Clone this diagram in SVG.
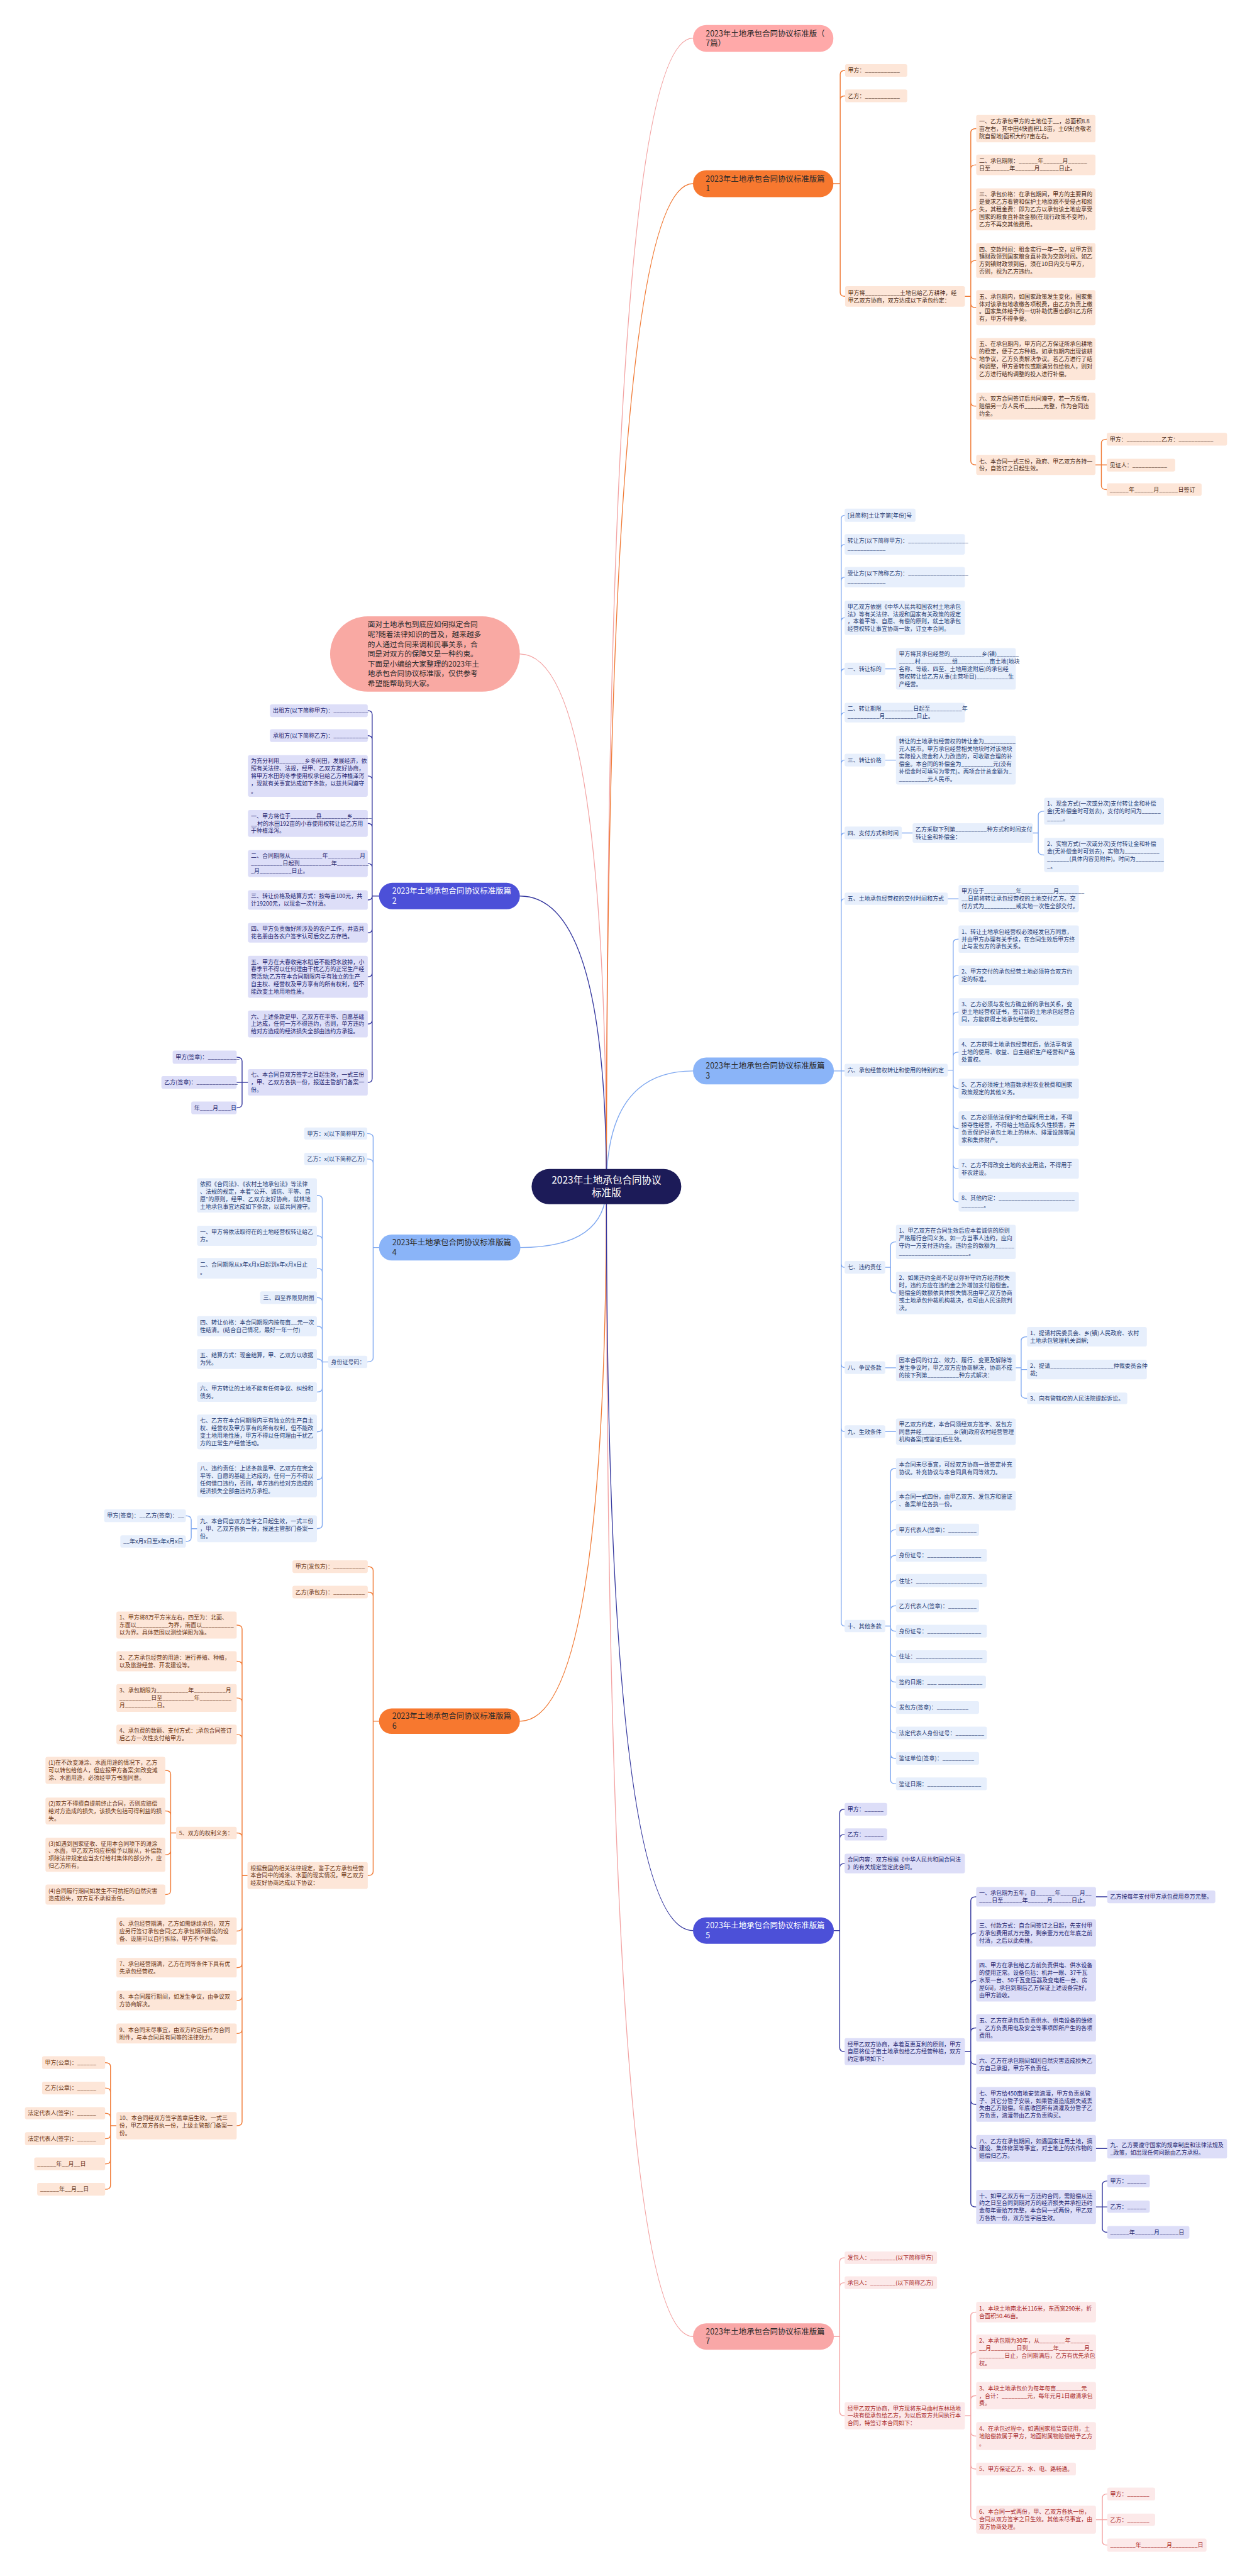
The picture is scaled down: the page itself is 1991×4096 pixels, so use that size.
<svg xmlns="http://www.w3.org/2000/svg" width="1991" height="4096" viewBox="0 0 1991 4096">
<style>
text{font-family:"Noto Sans CJK SC","Noto Sans",sans-serif}
.b1,.b2,.b3,.b4,.b5,.b6,.b7{rx:4px;ry:4px}
.b1,.b6{fill:#FDE6D8}.b3,.b4{fill:#E7EFFC}.b2,.b5{fill:#DDDEF8}.b7{fill:#FCE9E9}
.t1,.t2,.t3,.t4,.t5,.t6,.t7{font-size:11.6px}
.t1{fill:#4A2A15}.t3,.t4{fill:#1F3B73}.t2,.t5{fill:#23246E}.t7{fill:#A82828}.t6{fill:#6A3513}
.h{font-size:16px;fill:#2a2a2a}.hw{font-size:16px;fill:#ffffff}
.c{fill:none;stroke-width:1.8;stroke-linecap:round}
.cp{stroke:#F3A3A3}.co{stroke:#F07A35}.cb{stroke:#7FA8F0}.cn{stroke:#34379E}
</style>
<rect width="1991" height="4096" fill="#ffffff"/>
<g transform="scale(0.77773)">
<g id="connectors">
<path class="c cp" stroke-width="2.2" d="M1240 2426Q1240 78 1417 78M1240 2426Q1240 4777 1417 4777M1240 2426Q1240 1337 1063 1337"/>
<path class="c co" stroke-width="2.2" d="M1240 2426Q1240 375.5 1417 375.5M1240 2426Q1240 3519 1063 3519"/>
<path class="c cb" stroke-width="2.2" d="M1240 2426Q1240 2189.5 1417 2189.5M1240 2426Q1240 2550.5 1064 2550.5"/>
<path class="c cn" stroke-width="2.2" d="M1240 2426Q1240 3947 1417 3947M1240 2426Q1240 1832 1063 1832"/>
<path class="c co" d="M1704 375.5H1718M1718 375.5V152Q1718 144 1728 144M1718 375.5V204Q1718 196 1728 196M1718 375.5V598Q1718 606 1728 606
M1973 606H1985M1985 606V271Q1985 263 1996 263M1985 606V345Q1985 337 1996 337M1985 606V436Q1985 428 1996 428M1985 606V540.5Q1985 532.5 1996 532.5M1985 606V621Q1985 629 1996 629M1985 606V726Q1985 734 1996 734M1985 606V822.5Q1985 830.5 1996 830.5M1985 606V942.5Q1985 950.5 1996 950.5
M2240 950.5H2263M2252 950.5V906Q2252 898 2263 898M2252 950.5V993Q2252 1001 2263 1001"/>
<path class="c cb" d="M1705 2189.5H1727M1720 2189.5V1061.5Q1720 1053.5 1727 1053.5M1720 2189.5V1121Q1720 1113 1727 1113M1720 2189.5V1188Q1720 1180 1727 1180M1720 2189.5V1271Q1720 1263 1727 1263M1720 2189.5V1375.5Q1720 1367.5 1727 1367.5M1720 2189.5V1465Q1720 1457 1727 1457M1720 2189.5V1562Q1720 1554 1727 1554M1720 2189.5V1711Q1720 1703 1727 1703M1720 2189.5V1845.5Q1720 1837.5 1727 1837.5M1720 2189.5V2583Q1720 2591 1727 2591M1720 2189.5V2788Q1720 2796 1727 2796M1720 2189.5V2919Q1720 2927 1727 2927M1720 2189.5V3316.5Q1720 3324.5 1727 3324.5
M1810 1367.5H1832M1810 1554H1832M1844 1703H1866M2112 1703H2123M2123 1703V1666.5Q2123 1658.5 2135 1658.5M2123 1703V1740Q2123 1748 2135 1748M1938 1837.5H1960
M1938 2188H1949M1949 2188V1928Q1949 1920 1960 1920M1949 2188V2002Q1949 1994 1960 1994M1949 2188V2077Q1949 2069 1960 2069M1949 2188V2159Q1949 2151 1960 2151M1949 2188V2217.5Q1949 2225.5 1960 2225.5M1949 2188V2299.5Q1949 2307.5 1960 2307.5M1949 2188V2381.5Q1949 2389.5 1960 2389.5M1949 2188V2449Q1949 2457 1960 2457
M1810 2591H1821M1821 2591V2547Q1821 2539 1832 2539M1821 2591V2635.5Q1821 2643.5 1832 2643.5
M1810 2796.5H1832M2077 2796.5H2088M2088 2796.5V2741Q2088 2733 2100 2733M2088 2796.5V2800H2100M2088 2796.5V2851Q2088 2859 2100 2859M1810 2927H1832
M1810 3324.5H1821M1821 3324.5V3010Q1821 3002 1832 3002M1821 3324.5V3076Q1821 3068 1832 3068M1821 3324.5V3135.5Q1821 3127.5 1832 3127.5M1821 3324.5V3188Q1821 3180 1832 3180M1821 3324.5V3239.5Q1821 3231.5 1832 3231.5M1821 3324.5V3291Q1821 3283 1832 3283M1821 3324.5V3327Q1821 3335 1832 3335M1821 3324.5V3379Q1821 3387 1832 3387M1821 3324.5V3431Q1821 3439 1832 3439M1821 3324.5V3483Q1821 3491 1832 3491M1821 3324.5V3535Q1821 3543 1832 3543M1821 3324.5V3587Q1821 3595 1832 3595M1821 3324.5V3639Q1821 3647 1832 3647"/>
<path class="c cn" d="M1705 3947H1717M1717 3947V3707Q1717 3699 1727 3699M1717 3947V3758.5Q1717 3750.5 1727 3750.5M1717 3947V3818Q1717 3810 1727 3810M1717 3947V4186.5Q1717 4194.5 1727 4194.5
M1973 4194.5H1985M1985 4194.5V3886Q1985 3878 1996 3878M1985 4194.5V3960Q1985 3952 1996 3952M1985 4194.5V4057Q1985 4049 1996 4049M1985 4194.5V4154Q1985 4146 1996 4146M1985 4194.5V4212.5Q1985 4220.5 1996 4220.5M1985 4194.5V4294.5Q1985 4302.5 1996 4302.5M1985 4194.5V4384.5Q1985 4392.5 1996 4392.5M1985 4194.5V4504Q1985 4512 1996 4512
M2241 3878H2264M2241 4392.5H2264M2241 4512H2264M2254 4512V4467Q2254 4459 2264 4459M2254 4512V4556Q2254 4564 2264 4564"/>
<path class="c cp" d="M1705 4777H1717M1717 4777V4624Q1717 4616 1727 4616M1717 4777V4675Q1717 4667 1727 4667M1717 4777V4931Q1717 4939 1727 4939
M1973 4939H1985M1985 4939V4735Q1985 4727 1996 4727M1985 4939V4816.5Q1985 4808.5 1996 4808.5M1985 4939V4906Q1985 4898 1996 4898M1985 4939V4972.5Q1985 4980.5 1996 4980.5M1985 4939V5040Q1985 5048 1996 5048M1985 4939V5143.5Q1985 5151.5 1996 5151.5
M2241 5151.5H2264M2254 5151.5V5107Q2254 5099 2264 5099M2254 5151.5V5195.5Q2254 5203.5 2264 5203.5"/>
<path class="c cn" d="M775 1832H761M761 1832V1461Q761 1453 752 1453M761 1832V1512Q761 1504 752 1504M761 1832V1594.5Q761 1586.5 752 1586.5M761 1832V1691.5Q761 1683.5 752 1683.5M761 1832V1773.5Q761 1765.5 752 1765.5M761 1832Q761 1840 752 1840M761 1832V1899Q761 1907 752 1907M761 1832V1989Q761 1997 752 1997M761 1832V2085.5Q761 2093.5 752 2093.5M761 1832V2205Q761 2213 752 2213
M507 2213H484M495 2213V2169.5Q495 2161.5 484 2161.5M495 2213V2257Q495 2265 484 2265"/>
<path class="c cb" d="M775 2550.5H763M763 2550.5V2325.5Q763 2317.5 751 2317.5M763 2550.5V2377.5Q763 2369.5 751 2369.5M763 2550.5V2776.5Q763 2784.5 751 2784.5
M671 2784.5H659M659 2784.5V2452Q659 2444 648 2444M659 2784.5V2534.5Q659 2526.5 648 2526.5M659 2784.5V2601Q659 2593 648 2593M659 2784.5V2661Q659 2653 648 2653M659 2784.5V2719.5Q659 2711.5 648 2711.5M659 2784.5V2786.5Q659 2778.5 648 2778.5M659 2784.5V2838Q659 2846 648 2846M659 2784.5V2919.5Q659 2927.5 648 2927.5M659 2784.5V3017Q659 3025 648 3025M659 2784.5V3117.5Q659 3125.5 648 3125.5
M403 3125.5H391M391 3125.5V3107Q391 3099 380 3099M391 3125.5V3143.5Q391 3151.5 380 3151.5"/>
<path class="c co" d="M775 3519H763M763 3519V3211Q763 3203 752 3203M763 3519V3263Q763 3255 752 3255M763 3519V3826.5Q763 3834.5 752 3834.5
M506 3834.5H495M495 3834.5V3330.5Q495 3322.5 484 3322.5M495 3834.5V3404.5Q495 3396.5 484 3396.5M495 3834.5V3479.5Q495 3471.5 484 3471.5M495 3834.5V3554Q495 3546 484 3546M495 3834.5V3755.5Q495 3747.5 484 3747.5M495 3834.5V3940Q495 3948 484 3948M495 3834.5V4015Q495 4023 484 4023M495 3834.5V4082Q495 4090 484 4090M495 3834.5V4149.5Q495 4157.5 484 4157.5M495 3834.5V4338Q495 4346 484 4346
M360 3747.5H349M349 3747.5V3627.5Q349 3619.5 338 3619.5M349 3747.5V3710.5Q349 3702.5 338 3702.5M349 3747.5V3784Q349 3792 338 3792M349 3747.5V3865.5Q349 3873.5 338 3873.5
M238 4346H226M226 4346V4225Q226 4217 215 4217M226 4346V4277Q226 4269 215 4269M226 4346V4328.5Q226 4320.5 215 4320.5M226 4346V4364.5Q226 4372.5 215 4372.5M226 4346V4416Q226 4424 215 4424M226 4346V4468Q226 4476 215 4476"/>
</g>

<g id="center"><rect x="1087" y="2390" width="306" height="72" rx="36" fill="#1C1B58"/><text x="1240" y="2420" text-anchor="middle" font-size="20" fill="#ffffff">2023年土地承包合同协议<tspan x="1240" dy="26">标准版</tspan></text></g>

<g id="top7"><rect x="1417" y="51" width="287" height="55" rx="27" fill="#FFA9A9"/><text class="h" x="1443" y="74.1">2023年土地承包合同协议标准版（<tspan x="1443" dy="20">7篇）</tspan></text></g>
<g id="n1"><rect x="1417" y="348" width="287" height="55" rx="27" fill="#F7782F"/><text class="h" x="1443" y="371.1">2023年土地承包合同协议标准版篇<tspan x="1443" dy="20">1</tspan></text></g>
<g id="n3"><rect x="1417" y="2162" width="288" height="55" rx="27" fill="#8AB4F8"/><text class="h" x="1443" y="2185.1">2023年土地承包合同协议标准版篇<tspan x="1443" dy="20">3</tspan></text></g>
<g id="n5"><rect x="1417" y="3920" width="288" height="54" rx="27" fill="#4C50D8"/><text class="hw" x="1443" y="3942.6">2023年土地承包合同协议标准版篇<tspan x="1443" dy="20">5</tspan></text></g>
<g id="n7"><rect x="1417" y="4750" width="288" height="54" rx="27" fill="#F9A7A7"/><text class="h" x="1443" y="4772.6">2023年土地承包合同协议标准版篇<tspan x="1443" dy="20">7</tspan></text></g>
<g id="intro"><rect x="675" y="1260" width="388" height="154" rx="77" fill="#F9A9A3"/><text x="752" y="1282.5" font-size="15" fill="#2a2a2a">面对土地承包到底应如何拟定合同<tspan x="752" dy="20">呢?随着法律知识的普及，越来越多</tspan><tspan x="752" dy="20">的人通过合同来调和民事关系，合</tspan><tspan x="752" dy="20">同是对双方的保障又是一种约束。</tspan><tspan x="752" dy="20">下面是小编给大家整理的2023年土</tspan><tspan x="752" dy="20">地承包合同协议标准版，仅供参考</tspan><tspan x="752" dy="20">希望能帮助到大家。</tspan></text></g>
<g id="n2"><rect x="775" y="1805" width="288" height="54" rx="27" fill="#4C50D8"/><text class="hw" x="802" y="1827.6">2023年土地承包合同协议标准版篇<tspan x="802" dy="20">2</tspan></text></g>
<g id="n4"><rect x="775" y="2524" width="289" height="53" rx="26" fill="#8AB4F8"/><text class="h" x="802" y="2546.1">2023年土地承包合同协议标准版篇<tspan x="802" dy="20">4</tspan></text></g>
<g id="n6"><rect x="775" y="3493" width="288" height="52" rx="26" fill="#F7782F"/><text class="h" x="802" y="3514.6">2023年土地承包合同协议标准版篇<tspan x="802" dy="20">6</tspan></text></g>

<g id="n1-a"><rect class="b1" x="1728" y="131" width="127" height="26"/><text class="t1" x="1734" y="148.2">甲方：___________</text></g>
<g id="n1-b"><rect class="b1" x="1728" y="183" width="127" height="26"/><text class="t1" x="1734" y="200.2">乙方：___________</text></g>
<g id="n1-c"><rect class="b1" x="1728" y="585" width="245" height="42"/><text class="t1" x="1734" y="602.55">甲方将___________土地包给乙方耕种，经<tspan x="1734" dy="15.3">甲乙双方协商，双方达成以下承包约定：</tspan></text></g>
<g id="n1-c1"><rect class="b1" x="1996" y="235" width="244" height="56"/><text class="t1" x="2002" y="251.9">一、乙方承包甲方的土地位于__，总面积8.8<tspan x="2002" dy="15.3">亩左右，其中田4快面积1.8亩，土6快(含敬老</tspan><tspan x="2002" dy="15.3">院自留地)面积大约7亩左右。</tspan></text></g>
<g id="n1-c2"><rect class="b1" x="1996" y="316" width="244" height="42"/><text class="t1" x="2002" y="333.55">二、承包期限：______年______月______<tspan x="2002" dy="15.3">日至______年______月______日止。</tspan></text></g>
<g id="n1-c3"><rect class="b1" x="1996" y="385" width="244" height="86"/><text class="t1" x="2002" y="401.6">三、承包价格：在承包期间，甲方的主要目的<tspan x="2002" dy="15.3">是要求乙方看管和保护土地原貌不受侵占和损</tspan><tspan x="2002" dy="15.3">失，其租金费：即为乙方以承包该土地应享受</tspan><tspan x="2002" dy="15.3">国家的粮食直补款金额(在现行政策不变时)，</tspan><tspan x="2002" dy="15.3">乙方不再交其他费用。</tspan></text></g>
<g id="n1-c4"><rect class="b1" x="1996" y="497" width="244" height="71"/><text class="t1" x="2002" y="513.75">四、交款时间：租金实行一年一交，以甲方到<tspan x="2002" dy="15.3">镇财政领到国家粮食直补款为交款时间。如乙</tspan><tspan x="2002" dy="15.3">方到镇财政领到后，须在10日内交与甲方，</tspan><tspan x="2002" dy="15.3">否则，视为乙方违约。</tspan></text></g>
<g id="n1-c5"><rect class="b1" x="1996" y="593" width="244" height="72"/><text class="t1" x="2002" y="610.25">五、承包期内，如国家政策发生变化，国家集<tspan x="2002" dy="15.3">体对该承包地收缴各项税费，由乙方负责上缴</tspan><tspan x="2002" dy="15.3">。国家集体给予的一切补助优惠也都归乙方所</tspan><tspan x="2002" dy="15.3">有，甲方不得争要。</tspan></text></g>
<g id="n1-c6"><rect class="b1" x="1996" y="691" width="244" height="86"/><text class="t1" x="2002" y="707.6">五、在承包期内，甲方向乙方保证所承包耕地<tspan x="2002" dy="15.3">的稳定，便于乙方种植。如承包期内出现该耕</tspan><tspan x="2002" dy="15.3">地争议，乙方负责解决争议。若乙方进行了结</tspan><tspan x="2002" dy="15.3">构调整，甲方要转包或期满另包给他人，则对</tspan><tspan x="2002" dy="15.3">乙方进行结构调整的投入进行补偿。</tspan></text></g>
<g id="n1-c7"><rect class="b1" x="1996" y="803" width="244" height="55"/><text class="t1" x="2002" y="819.4">六、双方合同签订后共同遵守，若一方反悔，<tspan x="2002" dy="15.3">赔偿另一方人民币______元整，作为合同违</tspan><tspan x="2002" dy="15.3">约金。</tspan></text></g>
<g id="n1-c8"><rect class="b1" x="1996" y="930" width="244" height="41"/><text class="t1" x="2002" y="947.05">七、本合同一式三份，政府、甲乙双方各持一<tspan x="2002" dy="15.3">份，自签订之日起生效。</tspan></text></g>
<g id="n1-c8a"><rect class="b1" x="2263" y="885" width="246" height="26"/><text class="t1" x="2269" y="902.2">甲方：___________乙方：___________</text></g>
<g id="n1-c8b"><rect class="b1" x="2263" y="938" width="140" height="26"/><text class="t1" x="2269" y="955.2">见证人：___________</text></g>
<g id="n1-c8c"><rect class="b1" x="2263" y="988" width="194" height="26"/><text class="t1" x="2269" y="1005.2">______年______月______日签订</text></g>

<g id="n3-1"><rect class="b3" x="1727" y="1040" width="145" height="27"/><text class="t3" x="1733" y="1057.7">[县简称]土让字第[年份]号</text></g>
<g id="n3-2"><rect class="b3" x="1727" y="1092" width="246" height="42"/><text class="t3" x="1733" y="1109.55">转让方(以下简称甲方)：___________________<tspan x="1733" dy="15.3">____________</tspan></text></g>
<g id="n3-3"><rect class="b3" x="1727" y="1159" width="246" height="42"/><text class="t3" x="1733" y="1176.55">受让方(以下简称乙方)：___________________<tspan x="1733" dy="15.3">____________</tspan></text></g>
<g id="n3-4"><rect class="b3" x="1727" y="1228" width="246" height="70"/><text class="t3" x="1733" y="1244.25">甲乙双方依据《中华人民共和国农村土地承包<tspan x="1733" dy="15.3">法》等有关法律、法规和国家有关政策的规定</tspan><tspan x="1733" dy="15.3">，本着平等、自愿、有偿的原则，就土地承包</tspan><tspan x="1733" dy="15.3">经营权转让事宜协商一致，订立本合同。</tspan></text></g>
<g id="n3-5"><rect class="b3" x="1727" y="1355" width="83" height="25"/><text class="t3" x="1733" y="1371.7">一、转让标的</text></g>
<g id="n3-5a"><rect class="b3" x="1832" y="1325" width="245" height="85"/><text class="t3" x="1838" y="1341.1">甲方将其承包经营的__________乡(镇)_______<tspan x="1838" dy="15.3">_____村__________组__________亩土地(地块</tspan><tspan x="1838" dy="15.3">名称、等级、四至、土地用途附后)的承包经</tspan><tspan x="1838" dy="15.3">营权转让给乙方从事(主营项目)__________生</tspan><tspan x="1838" dy="15.3">产经营。</tspan></text></g>
<g id="n3-6"><rect class="b3" x="1727" y="1437" width="246" height="40"/><text class="t3" x="1733" y="1453.55">二、转让期限__________日起至__________年<tspan x="1733" dy="15.3">__________月__________日止。</tspan></text></g>
<g id="n3-7"><rect class="b3" x="1727" y="1541" width="83" height="26"/><text class="t3" x="1733" y="1558.2">三、转让价格</text></g>
<g id="n3-7a"><rect class="b3" x="1832" y="1504" width="245" height="100"/><text class="t3" x="1838" y="1519.95">转让的土地承包经营权的转让金为__________<tspan x="1838" dy="15.3">元人民币。甲方承包经营相关地块时对该地块</tspan><tspan x="1838" dy="15.3">实际投入资金和人力改造的，可收取合理的补</tspan><tspan x="1838" dy="15.3">偿金。本合同的补偿金为__________元(没有</tspan><tspan x="1838" dy="15.3">补偿金时可填写为零元)。两项合计总金额为_</tspan><tspan x="1838" dy="15.3">_________元人民币。</tspan></text></g>
<g id="n3-8"><rect class="b3" x="1727" y="1690" width="117" height="26"/><text class="t3" x="1733" y="1707.2">四、支付方式和时间</text></g>
<g id="n3-8a"><rect class="b3" x="1866" y="1683" width="246" height="40"/><text class="t3" x="1872" y="1699.55">乙方采取下列第__________种方式和时间支付<tspan x="1872" dy="15.3">转让金和补偿金：</tspan></text></g>
<g id="n3-8a1"><rect class="b3" x="2135" y="1631" width="245" height="55"/><text class="t3" x="2141" y="1647.4">1、现金方式(一次或分次)支付转让金和补偿<tspan x="2141" dy="15.3">金(无补偿金时可划去)，支付的时间为______</tspan><tspan x="2141" dy="15.3">_____。</tspan></text></g>
<g id="n3-8a2"><rect class="b3" x="2135" y="1713" width="245" height="70"/><text class="t3" x="2141" y="1729.25">2、实物方式(一次或分次)支付转让金和补偿<tspan x="2141" dy="15.3">金(无补偿金时可划去)，实物为___________</tspan><tspan x="2141" dy="15.3">_______(具体内容见附件)。时间为_________</tspan><tspan x="2141" dy="15.3">_。</tspan></text></g>
<g id="n3-9"><rect class="b3" x="1727" y="1825" width="211" height="25"/><text class="t3" x="1733" y="1841.7">五、土地承包经营权的交付时间和方式</text></g>
<g id="n3-9a"><rect class="b3" x="1960" y="1809" width="246" height="56"/><text class="t3" x="1966" y="1825.9">甲方应于__________年__________月________<tspan x="1966" dy="15.3">__日前将转让承包经营权的土地交付乙方。交</tspan><tspan x="1966" dy="15.3">付方式为__________或实地一次性全部交付。</tspan></text></g>
<g id="n3-10"><rect class="b3" x="1727" y="2175" width="211" height="26"/><text class="t3" x="1733" y="2192.2">六、承包经营权转让和使用的特别约定</text></g>
<g id="n3-10a"><rect class="b3" x="1960" y="1892" width="246" height="56"/><text class="t3" x="1966" y="1908.9">1、转让土地承包经营权必须经发包方同意，<tspan x="1966" dy="15.3">并由甲方办理有关手续，在合同生效后甲方终</tspan><tspan x="1966" dy="15.3">止与发包方的承包关系。</tspan></text></g>
<g id="n3-10b"><rect class="b3" x="1960" y="1974" width="246" height="40"/><text class="t3" x="1966" y="1990.55">2、甲方交付的承包经营土地必须符合双方约<tspan x="1966" dy="15.3">定的标准。</tspan></text></g>
<g id="n3-10c"><rect class="b3" x="1960" y="2041" width="246" height="56"/><text class="t3" x="1966" y="2057.9">3、乙方必须与发包方确立新的承包关系，变<tspan x="1966" dy="15.3">更土地经营权证书，签订新的土地承包经营合</tspan><tspan x="1966" dy="15.3">同，方能获得土地承包经营权。</tspan></text></g>
<g id="n3-10d"><rect class="b3" x="1960" y="2123" width="246" height="56"/><text class="t3" x="1966" y="2139.9">4、乙方获得土地承包经营权后，依法享有该<tspan x="1966" dy="15.3">土地的使用、收益、自主组织生产经营和产品</tspan><tspan x="1966" dy="15.3">处置权。</tspan></text></g>
<g id="n3-10e"><rect class="b3" x="1960" y="2205" width="246" height="41"/><text class="t3" x="1966" y="2222.05">5、乙方必须按土地亩数承担农业税费和国家<tspan x="1966" dy="15.3">政策规定的其他义务。</tspan></text></g>
<g id="n3-10f"><rect class="b3" x="1960" y="2272" width="246" height="71"/><text class="t3" x="1966" y="2288.75">6、乙方必须依法保护和合理利用土地，不得<tspan x="1966" dy="15.3">掠夺性经营，不得给土地造成永久性损害，并</tspan><tspan x="1966" dy="15.3">负责保护好承包土地上的林木、排灌设施等国</tspan><tspan x="1966" dy="15.3">家和集体财产。</tspan></text></g>
<g id="n3-10g"><rect class="b3" x="1960" y="2369" width="246" height="41"/><text class="t3" x="1966" y="2386.05">7、乙方不得改变土地的农业用途，不得用于<tspan x="1966" dy="15.3">非农建设。</tspan></text></g>
<g id="n3-10h"><rect class="b3" x="1960" y="2437" width="246" height="40"/><text class="t3" x="1966" y="2453.55">8、其他约定：________________________<tspan x="1966" dy="15.3">_______。</tspan></text></g>
<g id="n3-11"><rect class="b3" x="1727" y="2578" width="83" height="26"/><text class="t3" x="1733" y="2595.2">七、违约责任</text></g>
<g id="n3-11a"><rect class="b3" x="1832" y="2504" width="245" height="70"/><text class="t3" x="1838" y="2520.25">1、甲乙双方在合同生效后应本着诚信的原则<tspan x="1838" dy="15.3">严格履行合同义务。如一方当事人违约，应向</tspan><tspan x="1838" dy="15.3">守约一方支付违约金。违约金的数额为______</tspan><tspan x="1838" dy="15.3">______________________。</tspan></text></g>
<g id="n3-11b"><rect class="b3" x="1832" y="2600" width="245" height="87"/><text class="t3" x="1838" y="2617.1">2、如果违约金尚不足以弥补守约方经济损失<tspan x="1838" dy="15.3">时，违约方应在违约金之外增加支付赔偿金。</tspan><tspan x="1838" dy="15.3">赔偿金的数额依具体损失情况由甲乙双方协商</tspan><tspan x="1838" dy="15.3">或土地承包仲裁机构裁决，也可由人民法院判</tspan><tspan x="1838" dy="15.3">决。</tspan></text></g>
<g id="n3-12"><rect class="b3" x="1727" y="2783" width="83" height="26"/><text class="t3" x="1733" y="2800.2">八、争议条款</text></g>
<g id="n3-12a"><rect class="b3" x="1832" y="2769" width="245" height="55"/><text class="t3" x="1838" y="2785.4">因本合同的订立、效力、履行、变更及解除等<tspan x="1838" dy="15.3">发生争议时，甲乙双方应协商解决，协商不成</tspan><tspan x="1838" dy="15.3">的按下列第__________种方式解决：</tspan></text></g>
<g id="n3-12a1"><rect class="b3" x="2100" y="2713" width="245" height="40"/><text class="t3" x="2106" y="2729.55">1、提请村民委员会、乡(镇)人民政府、农村<tspan x="2106" dy="15.3">土地承包管理机关调解;</tspan></text></g>
<g id="n3-12a2"><rect class="b3" x="2100" y="2780" width="245" height="40"/><text class="t3" x="2106" y="2796.55">2、提请____________________仲裁委员会仲<tspan x="2106" dy="15.3">裁;</tspan></text></g>
<g id="n3-12a3"><rect class="b3" x="2100" y="2847" width="205" height="24"/><text class="t3" x="2106" y="2863.2">3、向有管辖权的人民法院提起诉讼。</text></g>
<g id="n3-13"><rect class="b3" x="1727" y="2914" width="83" height="26"/><text class="t3" x="1733" y="2931.2">九、生效条件</text></g>
<g id="n3-13a"><rect class="b3" x="1832" y="2900" width="245" height="54"/><text class="t3" x="1838" y="2915.9">甲乙双方约定，本合同须经双方签字、发包方<tspan x="1838" dy="15.3">同意并经__________乡(镇)政府农村经营管理</tspan><tspan x="1838" dy="15.3">机构备案(或鉴证)后生效。</tspan></text></g>
<g id="n3-14"><rect class="b3" x="1727" y="3312" width="83" height="25"/><text class="t3" x="1733" y="3328.7">十、其他条款</text></g>
<g id="n3-14a"><rect class="b3" x="1832" y="2981" width="245" height="42"/><text class="t3" x="1838" y="2998.55">本合同未尽事宜，可经双方协商一致签定补充<tspan x="1838" dy="15.3">协议。补充协议与本合同具有同等效力。</tspan></text></g>
<g id="n3-14b"><rect class="b3" x="1832" y="3048" width="245" height="40"/><text class="t3" x="1838" y="3064.55">本合同一式四份，由甲乙双方、发包方和鉴证<tspan x="1838" dy="15.3">、备案单位各执一份。</tspan></text></g>
<g id="n3-14c"><rect class="b3" x="1832" y="3115" width="170" height="25"/><text class="t3" x="1838" y="3131.7">甲方代表人(签章)：_________</text></g>
<g id="n3-14d"><rect class="b3" x="1832" y="3167" width="186" height="26"/><text class="t3" x="1838" y="3184.2">身份证号：_________________</text></g>
<g id="n3-14e"><rect class="b3" x="1832" y="3218" width="186" height="27"/><text class="t3" x="1838" y="3235.7">住址：_____________________</text></g>
<g id="n3-14f"><rect class="b3" x="1832" y="3270" width="170" height="26"/><text class="t3" x="1838" y="3287.2">乙方代表人(签章)：_________</text></g>
<g id="n3-14g"><rect class="b3" x="1832" y="3322" width="186" height="26"/><text class="t3" x="1838" y="3339.2">身份证号：_________________</text></g>
<g id="n3-14h"><rect class="b3" x="1832" y="3374" width="186" height="26"/><text class="t3" x="1838" y="3391.2">住址：_____________________</text></g>
<g id="n3-14i"><rect class="b3" x="1832" y="3426" width="184" height="26"/><text class="t3" x="1838" y="3443.2">签约日期：___ ______________</text></g>
<g id="n3-14j"><rect class="b3" x="1832" y="3478" width="170" height="26"/><text class="t3" x="1838" y="3495.2">发包方(签章)：__________</text></g>
<g id="n3-14k"><rect class="b3" x="1832" y="3530" width="186" height="26"/><text class="t3" x="1838" y="3547.2">法定代表人身份证号：_________</text></g>
<g id="n3-14l"><rect class="b3" x="1832" y="3582" width="170" height="26"/><text class="t3" x="1838" y="3599.2">鉴证单位(签章)：__________</text></g>
<g id="n3-14m"><rect class="b3" x="1832" y="3634" width="186" height="26"/><text class="t3" x="1838" y="3651.2">鉴证日期：_________________</text></g>

<g id="n5-1"><rect class="b5" x="1727" y="3686" width="87" height="26"/><text class="t5" x="1733" y="3703.2">甲方：______</text></g>
<g id="n5-2"><rect class="b5" x="1727" y="3738" width="87" height="25"/><text class="t5" x="1733" y="3754.7">乙方：______</text></g>
<g id="n5-3"><rect class="b5" x="1727" y="3790" width="246" height="40"/><text class="t5" x="1733" y="3806.55">合同内容：双方根据《中华人民共和国合同法<tspan x="1733" dy="15.3">》的有关规定签定此合同。</tspan></text></g>
<g id="n5-4"><rect class="b5" x="1727" y="4167" width="246" height="55"/><text class="t5" x="1733" y="4183.4">经甲乙双方协商，本着互惠互利的原则，甲方<tspan x="1733" dy="15.3">自愿将位于亩土地承包给乙方经营种植，双方</tspan><tspan x="1733" dy="15.3">约定事项如下：</tspan></text></g>
<g id="n5-4a"><rect class="b5" x="1996" y="3858" width="245" height="40"/><text class="t5" x="2002" y="3874.55">一、承包期为五年，自______年______月__<tspan x="2002" dy="15.3">____日至______年______月______日止。</tspan></text></g>
<g id="n5-4a1"><rect class="b5" x="2264" y="3865" width="221" height="26"/><text class="t5" x="2270" y="3882.2">乙方按每年支付甲方承包费用叁万元整。</text></g>
<g id="n5-4b"><rect class="b5" x="1996" y="3924" width="245" height="56"/><text class="t5" x="2002" y="3940.9">三、付款方式：自合同签订之日起，先支付甲<tspan x="2002" dy="15.3">方承包费用贰万元整，剩余壹万元在年底之前</tspan><tspan x="2002" dy="15.3">付清，之后以此类推。</tspan></text></g>
<g id="n5-4c"><rect class="b5" x="1996" y="4006" width="245" height="86"/><text class="t5" x="2002" y="4022.6">四、甲方在承包给乙方前负责供电、供水设备<tspan x="2002" dy="15.3">的使用正常。设备包括：机井一眼、37千瓦</tspan><tspan x="2002" dy="15.3">水泵一台、50千瓦变压器及变电柜一台、房</tspan><tspan x="2002" dy="15.3">屋6间，承包到期后乙方保证上述设备完好，</tspan><tspan x="2002" dy="15.3">由甲方验收。</tspan></text></g>
<g id="n5-4d"><rect class="b5" x="1996" y="4118" width="245" height="56"/><text class="t5" x="2002" y="4134.9">五、乙方在承包后负责供水、供电设备的维修<tspan x="2002" dy="15.3">。乙方负责用电及安全等事项即所产生的各项</tspan><tspan x="2002" dy="15.3">费用。</tspan></text></g>
<g id="n5-4e"><rect class="b5" x="1996" y="4200" width="245" height="41"/><text class="t5" x="2002" y="4217.05">六、乙方在承包期间如因自然灾害造成损失乙<tspan x="2002" dy="15.3">方自己承担，甲方不负责任。</tspan></text></g>
<g id="n5-4f"><rect class="b5" x="1996" y="4267" width="245" height="71"/><text class="t5" x="2002" y="4283.75">七、甲方给450亩地安装滴灌，甲方负责总管<tspan x="2002" dy="15.3">子、其它分管子安装，如果管道造成损失或丢</tspan><tspan x="2002" dy="15.3">失由乙方赔偿。年底收回所有滴灌及分管子乙</tspan><tspan x="2002" dy="15.3">方负责，滴灌带由乙方负责购买。</tspan></text></g>
<g id="n5-4g"><rect class="b5" x="1996" y="4365" width="245" height="55"/><text class="t5" x="2002" y="4381.4">八、乙方在承包期间，如遇国家征用土地，搞<tspan x="2002" dy="15.3">建设、集体修渠等事宜，对土地上的农作物的</tspan><tspan x="2002" dy="15.3">赔偿归乙方。</tspan></text></g>
<g id="n5-4g1"><rect class="b5" x="2264" y="4373" width="245" height="40"/><text class="t5" x="2270" y="4389.55">九、乙方要遵守国家的规章制度和法律法规及<tspan x="2270" dy="15.3">_政策，如出现任何问题由乙方承担。</tspan></text></g>
<g id="n5-4h"><rect class="b5" x="1996" y="4477" width="245" height="70"/><text class="t5" x="2002" y="4493.25">十、如甲乙双方有一方违约合同，需赔偿从违<tspan x="2002" dy="15.3">约之日至合同到期对方的经济损失并承担违约</tspan><tspan x="2002" dy="15.3">金每年壹拾万元整，本合同一式两份，甲乙双</tspan><tspan x="2002" dy="15.3">方各执一份，双方签字后生效。</tspan></text></g>
<g id="n5-4h1"><rect class="b5" x="2264" y="4446" width="87" height="26"/><text class="t5" x="2270" y="4463.2">甲方：______</text></g>
<g id="n5-4h2"><rect class="b5" x="2264" y="4499" width="87" height="25"/><text class="t5" x="2270" y="4515.7">乙方：______</text></g>
<g id="n5-4h3"><rect class="b5" x="2264" y="4551" width="168" height="26"/><text class="t5" x="2270" y="4568.2">______年______月______日</text></g>

<g id="n7-1"><rect class="b7" x="1727" y="4603" width="189" height="26"/><text class="t7" x="1733" y="4620.2">发包人：________(以下简称甲方)</text></g>
<g id="n7-2"><rect class="b7" x="1727" y="4654" width="189" height="26"/><text class="t7" x="1733" y="4671.2">承包人：________(以下简称乙方)</text></g>
<g id="n7-3"><rect class="b7" x="1727" y="4911" width="246" height="56"/><text class="t7" x="1733" y="4927.9">经甲乙双方协商，甲方现将东马曲村东林场地<tspan x="1733" dy="15.3">一块有偿承包给乙方，为以后双方共同执行本</tspan><tspan x="1733" dy="15.3">合同，特签订本合同如下：</tspan></text></g>
<g id="n7-3a"><rect class="b7" x="1996" y="4706" width="245" height="42"/><text class="t7" x="2002" y="4723.55">1、本块土地南北长116米，东西宽290米，折<tspan x="2002" dy="15.3">合面积50.46亩。</tspan></text></g>
<g id="n7-3b"><rect class="b7" x="1996" y="4773" width="245" height="71"/><text class="t7" x="2002" y="4789.75">2、本承包期为30年，从________年______<tspan x="2002" dy="15.3">__月________日到________年________月_</tspan><tspan x="2002" dy="15.3">________日止，合同期满后，乙方有优先承包</tspan><tspan x="2002" dy="15.3">权。</tspan></text></g>
<g id="n7-3c"><rect class="b7" x="1996" y="4870" width="245" height="56"/><text class="t7" x="2002" y="4886.9">3、本块土地承包价为每年每亩________元<tspan x="2002" dy="15.3">，合计：________元，每年元月1日缴清承包</tspan><tspan x="2002" dy="15.3">费。</tspan></text></g>
<g id="n7-3d"><rect class="b7" x="1996" y="4952" width="245" height="57"/><text class="t7" x="2002" y="4969.4">4、在承包过程中，如遇国家租赁或征用，土<tspan x="2002" dy="15.3">地赔偿款属于甲方，地面附属物赔偿给予乙方</tspan><tspan x="2002" dy="15.3">。</tspan></text></g>
<g id="n7-3e"><rect class="b7" x="1996" y="5035" width="204" height="26"/><text class="t7" x="2002" y="5052.2">5、甲方保证乙方、水、电、路畅通。</text></g>
<g id="n7-3f"><rect class="b7" x="1996" y="5123" width="245" height="57"/><text class="t7" x="2002" y="5139.4">6、本合同一式两份，甲、乙双方各执一份，<tspan x="2002" dy="15.3">合同从双方签字之日生效。其他未尽事宜，由</tspan><tspan x="2002" dy="15.3">双方协商处理。</tspan></text></g>
<g id="n7-3f1"><rect class="b7" x="2264" y="5086" width="98" height="26"/><text class="t7" x="2270" y="5103.2">甲方：_______</text></g>
<g id="n7-3f2"><rect class="b7" x="2264" y="5139" width="98" height="25"/><text class="t7" x="2270" y="5155.7">乙方：_______</text></g>
<g id="n7-3f3"><rect class="b7" x="2264" y="5190" width="203" height="27"/><text class="t7" x="2270" y="5207.7">________年________月________日</text></g>

<g id="n2-1"><rect class="b2" x="552" y="1440" width="200" height="26"/><text class="t2" x="558" y="1457.2">出租方(以下简称甲方)：___________</text></g>
<g id="n2-2"><rect class="b2" x="552" y="1491" width="200" height="26"/><text class="t2" x="558" y="1508.2">承租方(以下简称乙方)：___________</text></g>
<g id="n2-3"><rect class="b2" x="507" y="1544" width="245" height="85"/><text class="t2" x="513" y="1560.1">为充分利用________乡冬闲田，发展经济，依<tspan x="513" dy="15.3">照有关法律、法规，经甲、乙双方友好协商，</tspan><tspan x="513" dy="15.3">将甲方水田的冬季使用权承包给乙方种植泽泻</tspan><tspan x="513" dy="15.3">，现就有关事宜达成如下条款，以兹共同遵守</tspan><tspan x="513" dy="15.3">。</tspan></text></g>
<g id="n2-4"><rect class="b2" x="507" y="1656" width="245" height="55"/><text class="t2" x="513" y="1672.4">一、甲方将位于________县________乡______<tspan x="513" dy="15.3">__村的水田192亩的小春使用权转让给乙方用</tspan><tspan x="513" dy="15.3">于种植泽泻。</tspan></text></g>
<g id="n2-5"><rect class="b2" x="507" y="1738" width="245" height="55"/><text class="t2" x="513" y="1754.4">二、合同期限从__________年__________月<tspan x="513" dy="15.3">__________日起到__________年__________</tspan><tspan x="513" dy="15.3">_月__________日止。</tspan></text></g>
<g id="n2-6"><rect class="b2" x="507" y="1820" width="245" height="40"/><text class="t2" x="513" y="1836.55">三、转让价格及结算方式：按每亩100元，共<tspan x="513" dy="15.3">计19200元，以现金一次付清。</tspan></text></g>
<g id="n2-7"><rect class="b2" x="507" y="1887" width="245" height="40"/><text class="t2" x="513" y="1903.55">四、甲方负责做好所涉及的农户工作，并造具<tspan x="513" dy="15.3">花名册由各农户签字认可后交乙方存档。</tspan></text></g>
<g id="n2-8"><rect class="b2" x="507" y="1954" width="245" height="86"/><text class="t2" x="513" y="1970.6">五、甲方在大春收完水稻后不能把水放掉，小<tspan x="513" dy="15.3">春季节不得以任何理由干扰乙方的正常生产经</tspan><tspan x="513" dy="15.3">营活动;乙方在本合同期限内享有独立的生产</tspan><tspan x="513" dy="15.3">自主权、经营权及甲方享有的所有权利，但不</tspan><tspan x="513" dy="15.3">能改变土地用地性质。</tspan></text></g>
<g id="n2-9"><rect class="b2" x="507" y="2066" width="245" height="55"/><text class="t2" x="513" y="2082.4">六、上述条款是甲、乙双方在平等、自愿基础<tspan x="513" dy="15.3">上达成，任何一方不得违约，否则，单方违约</tspan><tspan x="513" dy="15.3">给对方造成的经济损失全部由违约方承担。</tspan></text></g>
<g id="n2-10"><rect class="b2" x="507" y="2186" width="245" height="54"/><text class="t2" x="513" y="2201.9">七、本合同自双方签字之日起生效，一式三份<tspan x="513" dy="15.3">，甲、乙双方各执一份，报送主管部门备案一</tspan><tspan x="513" dy="15.3">份。</tspan></text></g>
<g id="n2-10a"><rect class="b2" x="353" y="2148" width="131" height="27"/><text class="t2" x="359" y="2165.7">甲方(签章)：__________</text></g>
<g id="n2-10b"><rect class="b2" x="330" y="2200" width="154" height="26"/><text class="t2" x="336" y="2217.2">乙方(签章)：_____________</text></g>
<g id="n2-10c"><rect class="b2" x="391" y="2252" width="93" height="26"/><text class="t2" x="397" y="2269.2">年____月____日</text></g>

<g id="n4-1"><rect class="b4" x="622" y="2305" width="129" height="25"/><text class="t4" x="628" y="2321.7">甲方：x(以下简称甲方)</text></g>
<g id="n4-2"><rect class="b4" x="622" y="2357" width="129" height="25"/><text class="t4" x="628" y="2373.7">乙方：x(以下简称乙方)</text></g>
<g id="n4-3"><rect class="b4" x="671" y="2772" width="80" height="25"/><text class="t4" x="677" y="2788.7">身份证号码：</text></g>
<g id="n4-3a"><rect class="b4" x="403" y="2409" width="245" height="70"/><text class="t4" x="409" y="2425.25">依照《合同法》、《农村土地承包法》等法律<tspan x="409" dy="15.3">、法规的规定，本着"公开、诚信、平等、自</tspan><tspan x="409" dy="15.3">愿"的原则，经甲、乙双方友好协商，就林地</tspan><tspan x="409" dy="15.3">土地承包事宜达成如下条款，以兹共同遵守。</tspan></text></g>
<g id="n4-3b"><rect class="b4" x="403" y="2506" width="245" height="41"/><text class="t4" x="409" y="2523.05">一、甲方将依法取得在的土地经营权转让给乙<tspan x="409" dy="15.3">方。</tspan></text></g>
<g id="n4-3c"><rect class="b4" x="403" y="2572" width="245" height="42"/><text class="t4" x="409" y="2589.55">二、合同期限从x年x月x日起到x年x月x日止<tspan x="409" dy="15.3">。</tspan></text></g>
<g id="n4-3d"><rect class="b4" x="532" y="2640" width="116" height="26"/><text class="t4" x="538" y="2657.2">三、四至界限见附图</text></g>
<g id="n4-3e"><rect class="b4" x="403" y="2691" width="245" height="41"/><text class="t4" x="409" y="2708.05">四、转让价格：本合同期限内按每亩__元一次<tspan x="409" dy="15.3">性结清。(结合自己情况，最好一年一付)</tspan></text></g>
<g id="n4-3f"><rect class="b4" x="403" y="2758" width="245" height="41"/><text class="t4" x="409" y="2775.05">五、结算方式：现金结算，甲、乙双方以收据<tspan x="409" dy="15.3">为凭。</tspan></text></g>
<g id="n4-3g"><rect class="b4" x="403" y="2826" width="245" height="40"/><text class="t4" x="409" y="2842.55">六、甲方转让的土地不能有任何争议、纠纷和<tspan x="409" dy="15.3">债务。</tspan></text></g>
<g id="n4-3h"><rect class="b4" x="403" y="2892" width="245" height="71"/><text class="t4" x="409" y="2908.75">七、乙方在本合同期限内享有独立的生产自主<tspan x="409" dy="15.3">权、经营权及甲方享有的所有权利，但不能改</tspan><tspan x="409" dy="15.3">变土地用地性质，甲方不得以任何理由干扰乙</tspan><tspan x="409" dy="15.3">方的正常生产经营活动。</tspan></text></g>
<g id="n4-3i"><rect class="b4" x="403" y="2989" width="245" height="72"/><text class="t4" x="409" y="3006.25">八、违约责任：上述条款是甲、乙双方在完全<tspan x="409" dy="15.3">平等、自愿的基础上达成的，任何一方不得以</tspan><tspan x="409" dy="15.3">任何借口违约，否则，单方违约给对方造成的</tspan><tspan x="409" dy="15.3">经济损失全部由违约方承担。</tspan></text></g>
<g id="n4-3j"><rect class="b4" x="403" y="3098" width="245" height="55"/><text class="t4" x="409" y="3114.4">九、本合同自双方签字之日起生效，一式三份<tspan x="409" dy="15.3">，甲、乙双方各执一份，报送主管部门备案一</tspan><tspan x="409" dy="15.3">份。</tspan></text></g>
<g id="n4-3j1"><rect class="b4" x="213" y="3086" width="167" height="26"/><text class="t4" x="219" y="3103.2">甲方(签章)：__乙方(签章)：__</text></g>
<g id="n4-3j2"><rect class="b4" x="246" y="3139" width="134" height="25"/><text class="t4" x="252" y="3155.7">__年x月x日至x年x月x日</text></g>

<g id="n6-1"><rect class="b6" x="598" y="3190" width="154" height="26"/><text class="t6" x="604" y="3207.2">甲方(发包方)：__________</text></g>
<g id="n6-2"><rect class="b6" x="598" y="3242" width="154" height="26"/><text class="t6" x="604" y="3259.2">乙方(承包方)：__________</text></g>
<g id="n6-3"><rect class="b6" x="506" y="3807" width="246" height="55"/><text class="t6" x="512" y="3823.4">根据我国的相关法律规定，鉴于乙方承包经营<tspan x="512" dy="15.3">本合同中的滩涂、水面的现实情况，甲乙双方</tspan><tspan x="512" dy="15.3">经友好协商达成以下协议：</tspan></text></g>
<g id="n6-3a"><rect class="b6" x="238" y="3295" width="246" height="55"/><text class="t6" x="244" y="3311.4">1、甲方将8万平方米左右，四至为：北面、<tspan x="244" dy="15.3">东面以__________为界，南面以__________</tspan><tspan x="244" dy="15.3">以为界。具体范围以测绘详图为准。</tspan></text></g>
<g id="n6-3b"><rect class="b6" x="238" y="3376" width="246" height="41"/><text class="t6" x="244" y="3393.05">2、乙方承包经营的用途：进行养殖、种植，<tspan x="244" dy="15.3">以及旅游经营、开发建设等。</tspan></text></g>
<g id="n6-3c"><rect class="b6" x="238" y="3443" width="246" height="57"/><text class="t6" x="244" y="3460.4">3、承包期限为__________年__________月<tspan x="244" dy="15.3">__________日至__________年__________</tspan><tspan x="244" dy="15.3">月__________日。</tspan></text></g>
<g id="n6-3d"><rect class="b6" x="238" y="3526" width="246" height="40"/><text class="t6" x="244" y="3542.55">4、承包费的数额、支付方式：;承包合同签订<tspan x="244" dy="15.3">后乙方一次性支付给甲方。</tspan></text></g>
<g id="n6-3e"><rect class="b6" x="360" y="3735" width="124" height="25"/><text class="t6" x="366" y="3751.7">5、双方的权利义务：</text></g>
<g id="n6-3e1"><rect class="b6" x="93" y="3592" width="245" height="55"/><text class="t6" x="99" y="3608.4">(1)在不改变滩涂、水面用途的情况下，乙方<tspan x="99" dy="15.3">可以转包给他人，但应报甲方备案;如改变滩</tspan><tspan x="99" dy="15.3">涂、水面用途，必须经甲方书面同意。</tspan></text></g>
<g id="n6-3e2"><rect class="b6" x="93" y="3675" width="245" height="55"/><text class="t6" x="99" y="3691.4">(2)双方不得擅自提前终止合同，否则应赔偿<tspan x="99" dy="15.3">给对方造成的损失，该损失包括可得利益的损</tspan><tspan x="99" dy="15.3">失。</tspan></text></g>
<g id="n6-3e3"><rect class="b6" x="93" y="3757" width="245" height="70"/><text class="t6" x="99" y="3773.25">(3)如遇到国家征收、征用本合同项下的滩涂<tspan x="99" dy="15.3">、水面，甲乙双方均应积极予以服从，补偿款</tspan><tspan x="99" dy="15.3">项除法律规定应当支付给村集体的部分外，应</tspan><tspan x="99" dy="15.3">归乙方所有。</tspan></text></g>
<g id="n6-3e4"><rect class="b6" x="93" y="3853" width="245" height="41"/><text class="t6" x="99" y="3870.05">(4)合同履行期间如发生不可抗拒的自然灾害<tspan x="99" dy="15.3">造成损失，双方互不承担责任。</tspan></text></g>
<g id="n6-3f"><rect class="b6" x="238" y="3920" width="246" height="56"/><text class="t6" x="244" y="3936.9">6、承包经营期满，乙方如需继续承包，双方<tspan x="244" dy="15.3">应另行签订承包合同;乙方承包期间建设的设</tspan><tspan x="244" dy="15.3">备、设施可以自行拆除，甲方不予补偿。</tspan></text></g>
<g id="n6-3g"><rect class="b6" x="238" y="4003" width="246" height="40"/><text class="t6" x="244" y="4019.55">7、承包经营期满，乙方在同等条件下具有优<tspan x="244" dy="15.3">先承包经营权。</tspan></text></g>
<g id="n6-3h"><rect class="b6" x="238" y="4070" width="246" height="40"/><text class="t6" x="244" y="4086.55">8、本合同履行期间，如发生争议，由争议双<tspan x="244" dy="15.3">方协商解决。</tspan></text></g>
<g id="n6-3i"><rect class="b6" x="238" y="4137" width="246" height="41"/><text class="t6" x="244" y="4154.05">9、本合同未尽事宜，由双方约定后作为合同<tspan x="244" dy="15.3">附件，与本合同具有同等的法律效力。</tspan></text></g>
<g id="n6-3j"><rect class="b6" x="238" y="4318" width="246" height="56"/><text class="t6" x="244" y="4334.9">10、本合同经双方签字盖章后生效。一式三<tspan x="244" dy="15.3">份，甲乙双方各执一份，上级主管部门备案一</tspan><tspan x="244" dy="15.3">份。</tspan></text></g>
<g id="n6-3j1"><rect class="b6" x="86" y="4204" width="129" height="26"/><text class="t6" x="92" y="4221.2">甲方(公章)：______</text></g>
<g id="n6-3j2"><rect class="b6" x="86" y="4256" width="129" height="26"/><text class="t6" x="92" y="4273.2">乙方(公章)：______</text></g>
<g id="n6-3j3"><rect class="b6" x="51" y="4308" width="164" height="25"/><text class="t6" x="57" y="4324.7">法定代表人(签字)：______</text></g>
<g id="n6-3j4"><rect class="b6" x="51" y="4359" width="164" height="27"/><text class="t6" x="57" y="4376.7">法定代表人(签字)：______</text></g>
<g id="n6-3j5"><rect class="b6" x="70" y="4411" width="145" height="26"/><text class="t6" x="76" y="4428.2">______年__月__日</text></g>
<g id="n6-3j6"><rect class="b6" x="76" y="4463" width="139" height="26"/><text class="t6" x="82" y="4480.2">______年__月__日</text></g>
</g>
</svg>
